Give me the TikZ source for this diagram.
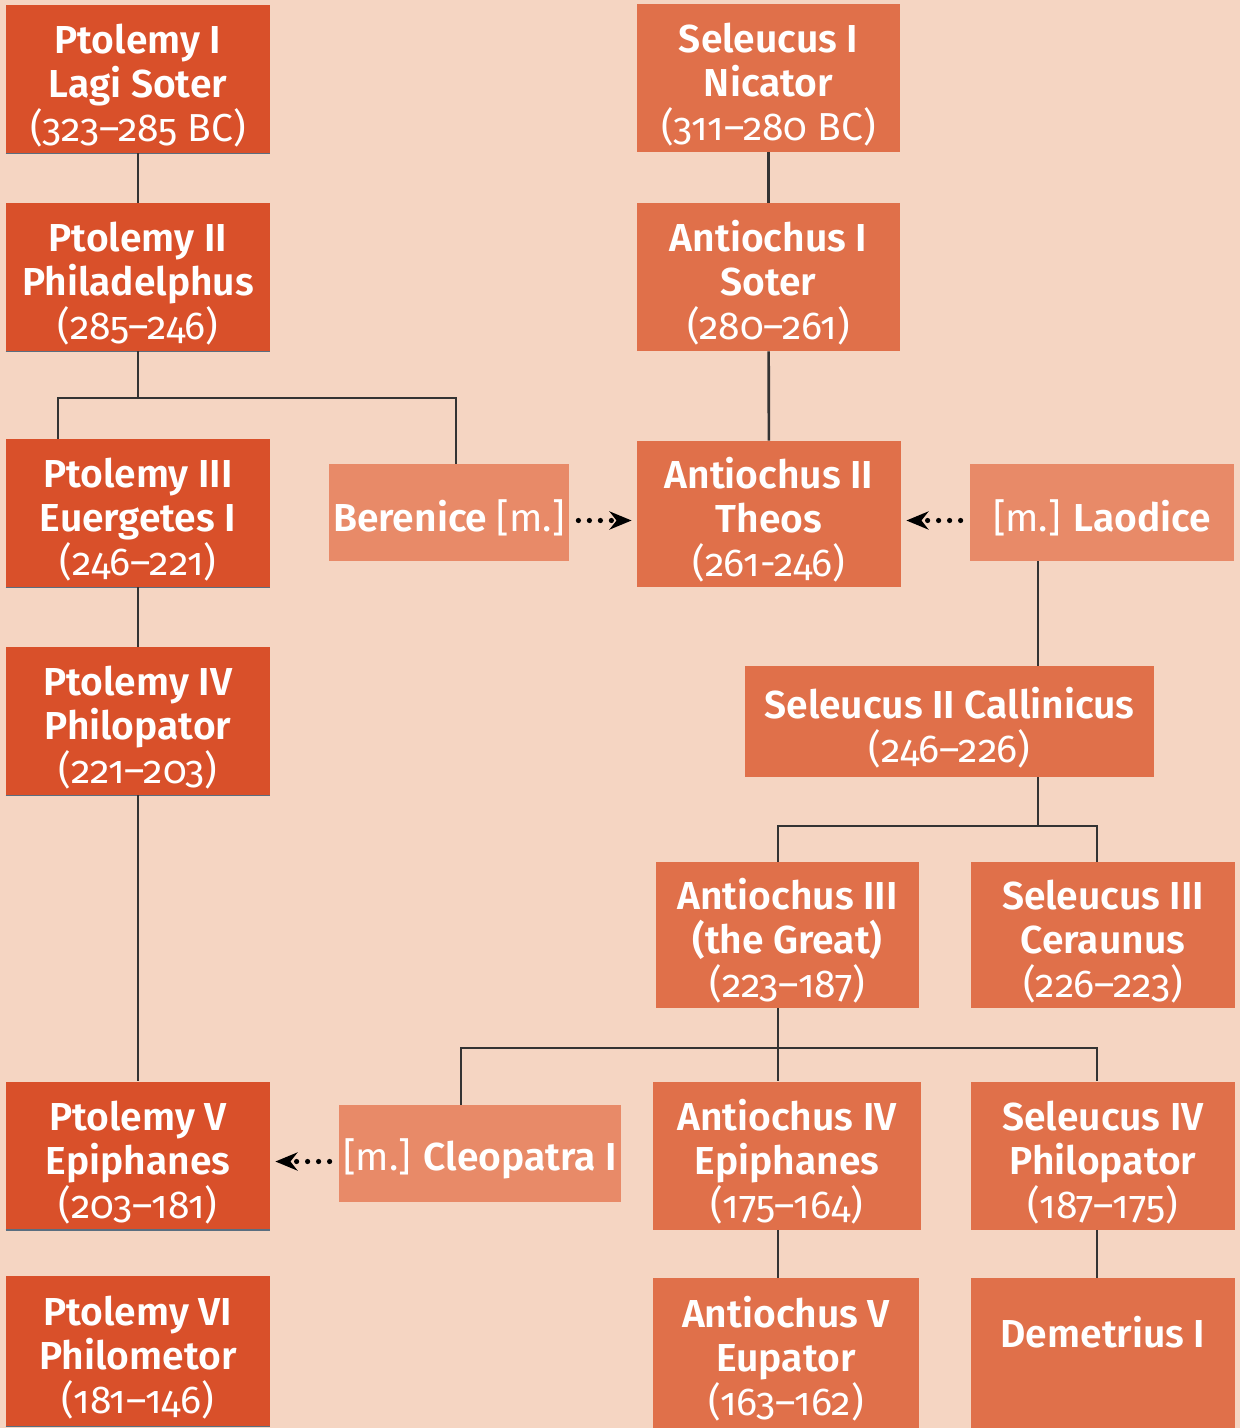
\documentclass[tikz,border=0pt]{standalone}
\usepackage{fontspec}
\setmainfont{Fira Sans}[Numbers=OldStyle, BoldFont={* SemiBold}]
\usetikzlibrary{arrows.meta}
\definecolor{bgpeach}{HTML}{F5D5C2}
\definecolor{ptolred}{HTML}{D9502A}
\definecolor{selorange}{HTML}{E0704A}
\definecolor{wifeorange}{HTML}{E88A68}
\definecolor{edgeblue}{HTML}{5A6E80}
\newcommand{\yrs}[1]{{\mdseries #1}}

\begin{document}
\begin{tikzpicture}[
    x=0.5pt, y=-0.5pt,
    king/.style={text=white, font=\fontsize{19.5}{22}\selectfont\bfseries,
      align=center, inner sep=0pt, minimum width=132pt, minimum height=74pt,
      text height=65.5pt},
    ptol/.style={king, fill=ptolred},
    sel/.style={king, fill=selorange},
    wife/.style={king, fill=wifeorange, minimum height=48.5pt, text height=21.5pt},
    kin/.style={draw=black!80, line width=1.3pt},
    wed/.style={-{Stealth[length=11pt,width=9pt,inset=3.5pt]}, line width=2.6pt,
      dash pattern=on 0pt off 5.5pt, line cap=round,
      shorten <=4.5pt, shorten >=2.5pt},
    ]
    \fill[bgpeach] (0,0) rectangle (1240,1428);
    \useasboundingbox (0,0) rectangle (1240,1428);

    \node[ptol] (p1) at (138,79) {Ptolemy I\\Lagi Soter\\\yrs{(323--285 BC)}};
    \node[ptol] (p2) at (138,277) {Ptolemy II\\Philadelphus\\\yrs{(285--246)}};
    \node[ptol] (p3) at (138,513) {Ptolemy III\\Euergetes I\\\yrs{(246--221)}};
    \node[ptol] (p4) at (138,721) {Ptolemy IV\\Philopator\\\yrs{(221--203)}};
    \node[ptol] (p5) at (138,1155.5) {Ptolemy V\\Epiphanes\\\yrs{(203--181)}};
    \node[ptol, minimum height=75pt] (p6) at (138,1351) {Ptolemy VI\\Philometor\\\yrs{(181--146)}};
    \foreach \n in {p1,p2,p3,p4,p5,p6}
      \draw[edgeblue, line width=0.8pt] (\n.south west) -- (\n.south east);

    \node[sel, minimum width=131.5pt] (s1) at (768.5,78) {Seleucus I\\Nicator\\\yrs{(311--280 BC)}};
    \node[sel, minimum width=131.5pt] (a1) at (768.5,277) {Antiochus I\\Soter\\\yrs{(280--261)}};
    \node[sel, minimum height=73pt] (a2) at (769,514) {Antiochus II\\Theos\\\yrs{(261-246)}};
    \node[wife, minimum width=120pt] (ber) at (449,512.5) {Berenice \yrs{[m.]}};
    \node[wife] (lao) at (1102,512.5) {\yrs{[m.]} Laodice};
    \node[sel, minimum width=204.5pt, minimum height=55.5pt, text height=43.5pt] (s2) at (949.5,721.5) {Seleucus II Callinicus\\\yrs{(246--226)}};
    \node[sel, minimum width=131.5pt, minimum height=73pt] (a3) at (787.5,935) {Antiochus III\\(the Great)\\\yrs{(223--187)}};
    \node[sel, minimum height=73pt] (s3) at (1103,935) {Seleucus III\\Ceraunus\\\yrs{(226--223)}};
    \node[wife, minimum width=141pt] (cle) at (480,1153.5) {\yrs{[m.]} Cleopatra I};
    \node[sel, minimum width=134pt] (a4) at (787,1155.5) {Antiochus IV\\Epiphanes\\\yrs{(175--164)}};
    \node[sel] (s4) at (1103,1155.5) {Seleucus IV\\Philopator\\\yrs{(187--175)}};
    \node[sel, minimum width=133pt, minimum height=75pt] (a5) at (786,1353) {Antiochus V\\Eupator\\\yrs{(163--162)}};
    \node[sel, minimum height=75pt, text height=21.5pt, text depth=27pt] (dem) at (1103,1353) {Demetrius I};

    \coordinate (b1l) at (58,398);
    \coordinate (b1r) at (456,398);
    \coordinate (lao1) at (1038,0);
    \coordinate (b2l) at (778,826);
    \coordinate (b2r) at (1097,826);
    \coordinate (b3l) at (461,1048);
    \coordinate (b3r) at (1097,1048);

    \draw[kin] (p1) -- (p2);
    \draw[kin] (p2.south) -- (p2.south |- b1l);
    \draw[kin] (b1l |- p3.north) -- (b1l) -- (b1r) -- (b1r |- ber.north);
    \draw[kin] (p3) -- (p4);
    \draw[kin] (p4) -- (p5);
    \draw[kin] (s1) -- (a1);
    \draw[kin] (a1) -- (a2);
    \draw[kin] (lao.south -| lao1) -- (s2.north -| lao1);
    \draw[kin] (s2.south -| lao1) -- (lao1 |- b2l);
    \draw[kin] (b2l |- a3.north) -- (b2l) -- (b2r) -- (b2r |- s3.north);
    \draw[kin] (a3.south -| b2l) -- (a4.north -| b2l);
    \draw[kin] (b3l |- cle.north) -- (b3l) -- (b3r) -- (b3r |- s4.north);
    \draw[kin] (a4.south -| b2l) -- (a5.north -| b2l);
    \draw[kin] (s4.south -| b2r) -- (dem.north -| b2r);

    \draw[wed] ([yshift=-4pt]ber.east) -- ([yshift=-4pt]ber.east -| a2.west);
    \draw[wed] ([yshift=-4pt]lao.west) -- ([yshift=-4pt]lao.west -| a2.east);
    \draw[wed] ([yshift=-4pt]cle.west) -- ([yshift=-4pt]cle.west -| p5.east);
\end{tikzpicture}
\end{document}
